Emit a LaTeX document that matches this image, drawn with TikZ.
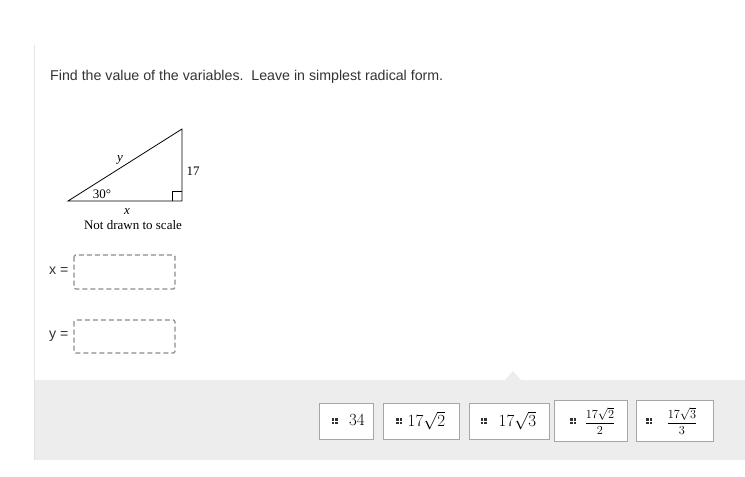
\RequirePackage{fix-cm}
\documentclass[tikz,border=0pt]{standalone}
\usepackage{fontspec}
\setmainfont{Liberation Serif}
\newfontfamily\arialf{Liberation Sans}
\begin{document}
\begin{tikzpicture}[x=1pt,y=-1pt,
  ui/.style={font=\arialf\fontsize{14.2}{16}\selectfont, text=black!80, inner sep=0pt},
  tm/.style={font=\fontsize{13}{15}\selectfont, inner sep=0pt},
  chiptext/.style={font=\fontsize{17}{19}\selectfont, inner sep=0pt},
  fractext/.style={font=\fontsize{12.3}{14}\selectfont, inner sep=0pt},
  ansbox/.style={draw=black!45, dashed, dash pattern=on 5pt off 3pt, line width=1.3pt, rounded corners=1.5pt},
  chip/.style={draw=black!35, fill=white, line width=0.6pt},
  grip/.style={fill=black!80}
]
\useasboundingbox (0,0) rectangle (745,477);
\fill[white] (0,0) rectangle (745,477);
% left rule
\draw[black!10, line width=1pt] (34,45) -- (34,380);
% bottom panel
\fill[black!7] (34,380) rectangle (745,460);
\draw[black!12, line width=0.6pt] (34,380) -- (34,460);
\fill[black!7] (505,380) -- (513,371) -- (521,380) -- cycle;
% prompt
\node[ui, anchor=west] (prompt) at (50,77) {Find the value of the variables.\ \ Leave in simplest radical form.};
% triangle
\coordinate (A) at (68,201);
\coordinate (B) at (182,201);
\coordinate (C) at (182,129);
\draw[line width=0.8pt] (A) -- (B) -- (C) -- cycle;
\draw[line width=0.6pt] (172,201) -- (172,191) -- (182,191);
\node[tm, font=\itshape\fontsize{13}{15}\selectfont] (ly) at (120,160) {y};
\node[tm] (l17) at (193,171) {17};
\node[tm] (l30) at (102,194) {30°};
\node[tm, font=\itshape\fontsize{13}{15}\selectfont] (lx) at (127,212) {x};
\node[tm] (nds) at (133,225) {Not drawn to scale};
% answer fields
\node[ui, anchor=west] (xeq) at (49,271) {x =};
\draw[ansbox] (74,255) rectangle (175,289);
\node[ui, anchor=west] (yeq) at (49,336) {y =};
\draw[ansbox] (74,320) rectangle (175,353);
% chips
\newcommand{\gripat}[2]{%
  \fill[grip] (#1-3,#2-3) rectangle ++(2.5,2.5);
  \fill[grip] (#1+0.5,#2-3) rectangle ++(2.5,2.5);
  \fill[grip] (#1-3,#2+0.5) rectangle ++(2.5,2.5);
  \fill[grip] (#1+0.5,#2+0.5) rectangle ++(2.5,2.5);}
\draw[chip] (319,403) rectangle (373,439);
\gripat{334.5}{421}
\node[chiptext] (c1) at (357,420.5) {$34$};
\draw[chip] (383,403) rectangle (459,439);
\gripat{399}{421}
\node[chiptext] (c2) at (426.5,420.5) {$17\sqrt{2}$};
\draw[chip] (469,403) rectangle (549,439);
\gripat{483.5}{421}
\node[chiptext] (c3) at (517.5,420.5) {$17\sqrt{3}$};
\draw[chip] (554,400) rectangle (627,441);
\gripat{573}{421}
\node[fractext] (c4) at (600,421) {$\displaystyle\frac{17\sqrt{2}}{2}$};
\draw[chip] (636,400) rectangle (713,441);
\gripat{649}{421}
\node[fractext] (c5) at (682,421) {$\displaystyle\frac{17\sqrt{3}}{3}$};
\end{tikzpicture}
\end{document}
